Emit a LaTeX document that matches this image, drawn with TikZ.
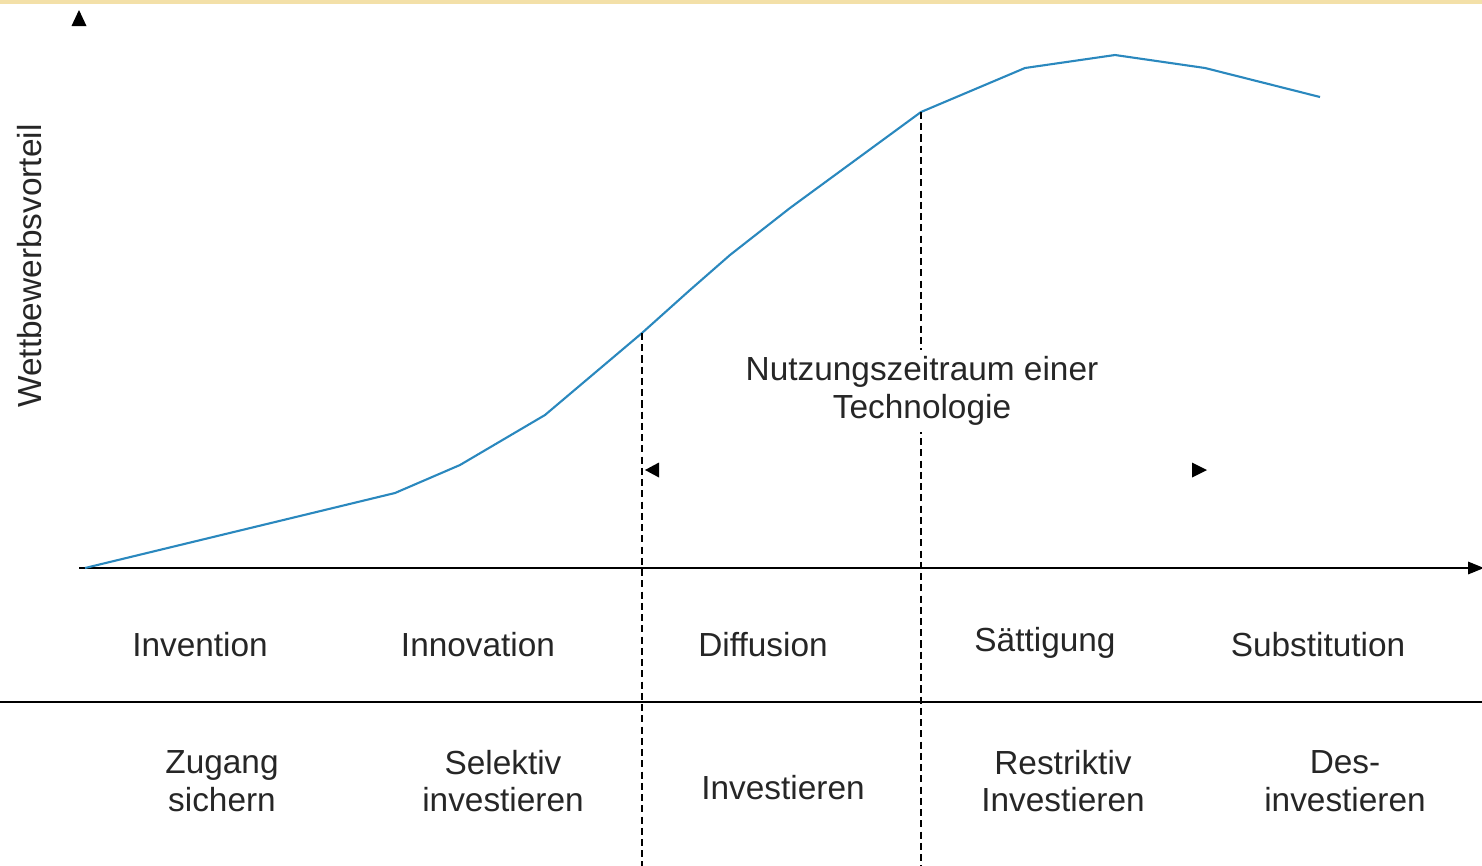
\documentclass[tikz,border=0pt]{standalone}
\usepackage{fontspec}
\setmainfont{Liberation Sans}
\usetikzlibrary{arrows.meta}
\definecolor{Curve}{RGB}{42,136,190}
\definecolor{Band}{RGB}{243,224,168}
\definecolor{Ink}{RGB}{38,38,38}

\begin{document}
\begin{tikzpicture}[x=0.02cm,y=-0.02cm,
  phase/.style={font=\fontsize{19}{21.5}\selectfont,text=Ink,align=center,inner sep=0pt},
  axis/.style={line width=1.1pt,black},
  guide/.style={line width=0.8pt,black,dash pattern=on 4pt off 2.4pt},
  tipmark/.style={fill=black},
  scurve/.style={line width=1.2pt,Curve,line join=round}]
\useasboundingbox (0,0) rectangle (1482,866);
\fill[Band] (0,0) rectangle (1482,4);

% axes
\coordinate (origin) at (79,568);
\coordinate (xend) at (1484,568);
\coordinate (ytop) at (79,10);
\draw[axis,-{Triangle[length=9pt,width=7pt]}] (origin) -- (xend);
\fill[tipmark] (ytop) -- ++(-7.5,16) -- ++(15,0) -- cycle;
\node[phase,rotate=90] (ylabel) at (30,266) {Wettbewerbsvorteil};

% table rule below the phases
\coordinate (ruleL) at (0,702);
\coordinate (ruleR) at (1482,702);
\draw[axis] (ruleL) -- (ruleR);

% technology curve
\coordinate (diffstart) at (642,333);
\coordinate (satstart) at (921,112);
\draw[scurve] (85,568) -- (395,493) -- (460,465) -- (545,415) -- (diffstart)
  -- (690,290) -- (730,255) -- (790,208) -- (satstart) -- (1025,68)
  -- (1115,55) -- (1205,68) -- (1320,97);

% phase borders
\coordinate (diffbottom) at (642,866);
\coordinate (satbottom) at (921,866);
\draw[guide] (diffstart) -- (diffbottom);
\draw[guide] (satstart) -- (satbottom);

% usage period (label blanks out the border behind it)
\node[phase,fill=white,inner ysep=3.5pt] (usage) at (922,391) {Nutzungszeitraum einer\\Technologie};
\coordinate (usageL) at (645,470);
\coordinate (usageR) at (1207,470);
\fill[tipmark] (usageL) -- ++(14,-7.5) -- ++(0,15) -- cycle;
\fill[tipmark] (usageR) -- ++(-15,-7.5) -- ++(0,15) -- cycle;

% phases
\node[phase] (invention) at (200,645) {Invention};
\node[phase] (innovation) at (478,645) {Innovation};
\node[phase] (diffusion) at (763,645) {Diffusion};
\node[phase] (saettigung) at (1045,643) {Sättigung};
\node[phase] (substitution) at (1318,645) {Substitution};

% strategies
\node[phase] (zugang) at (222,781) {Zugang\\sichern};
\node[phase] (selektiv) at (503,781) {Selektiv\\investieren};
\node[phase] (investieren) at (783,788) {Investieren};
\node[phase] (restriktiv) at (1063,781) {Restriktiv\\Investieren};
\node[phase] (desinv) at (1345,781) {Des-\\investieren};
\end{tikzpicture}
\end{document}
